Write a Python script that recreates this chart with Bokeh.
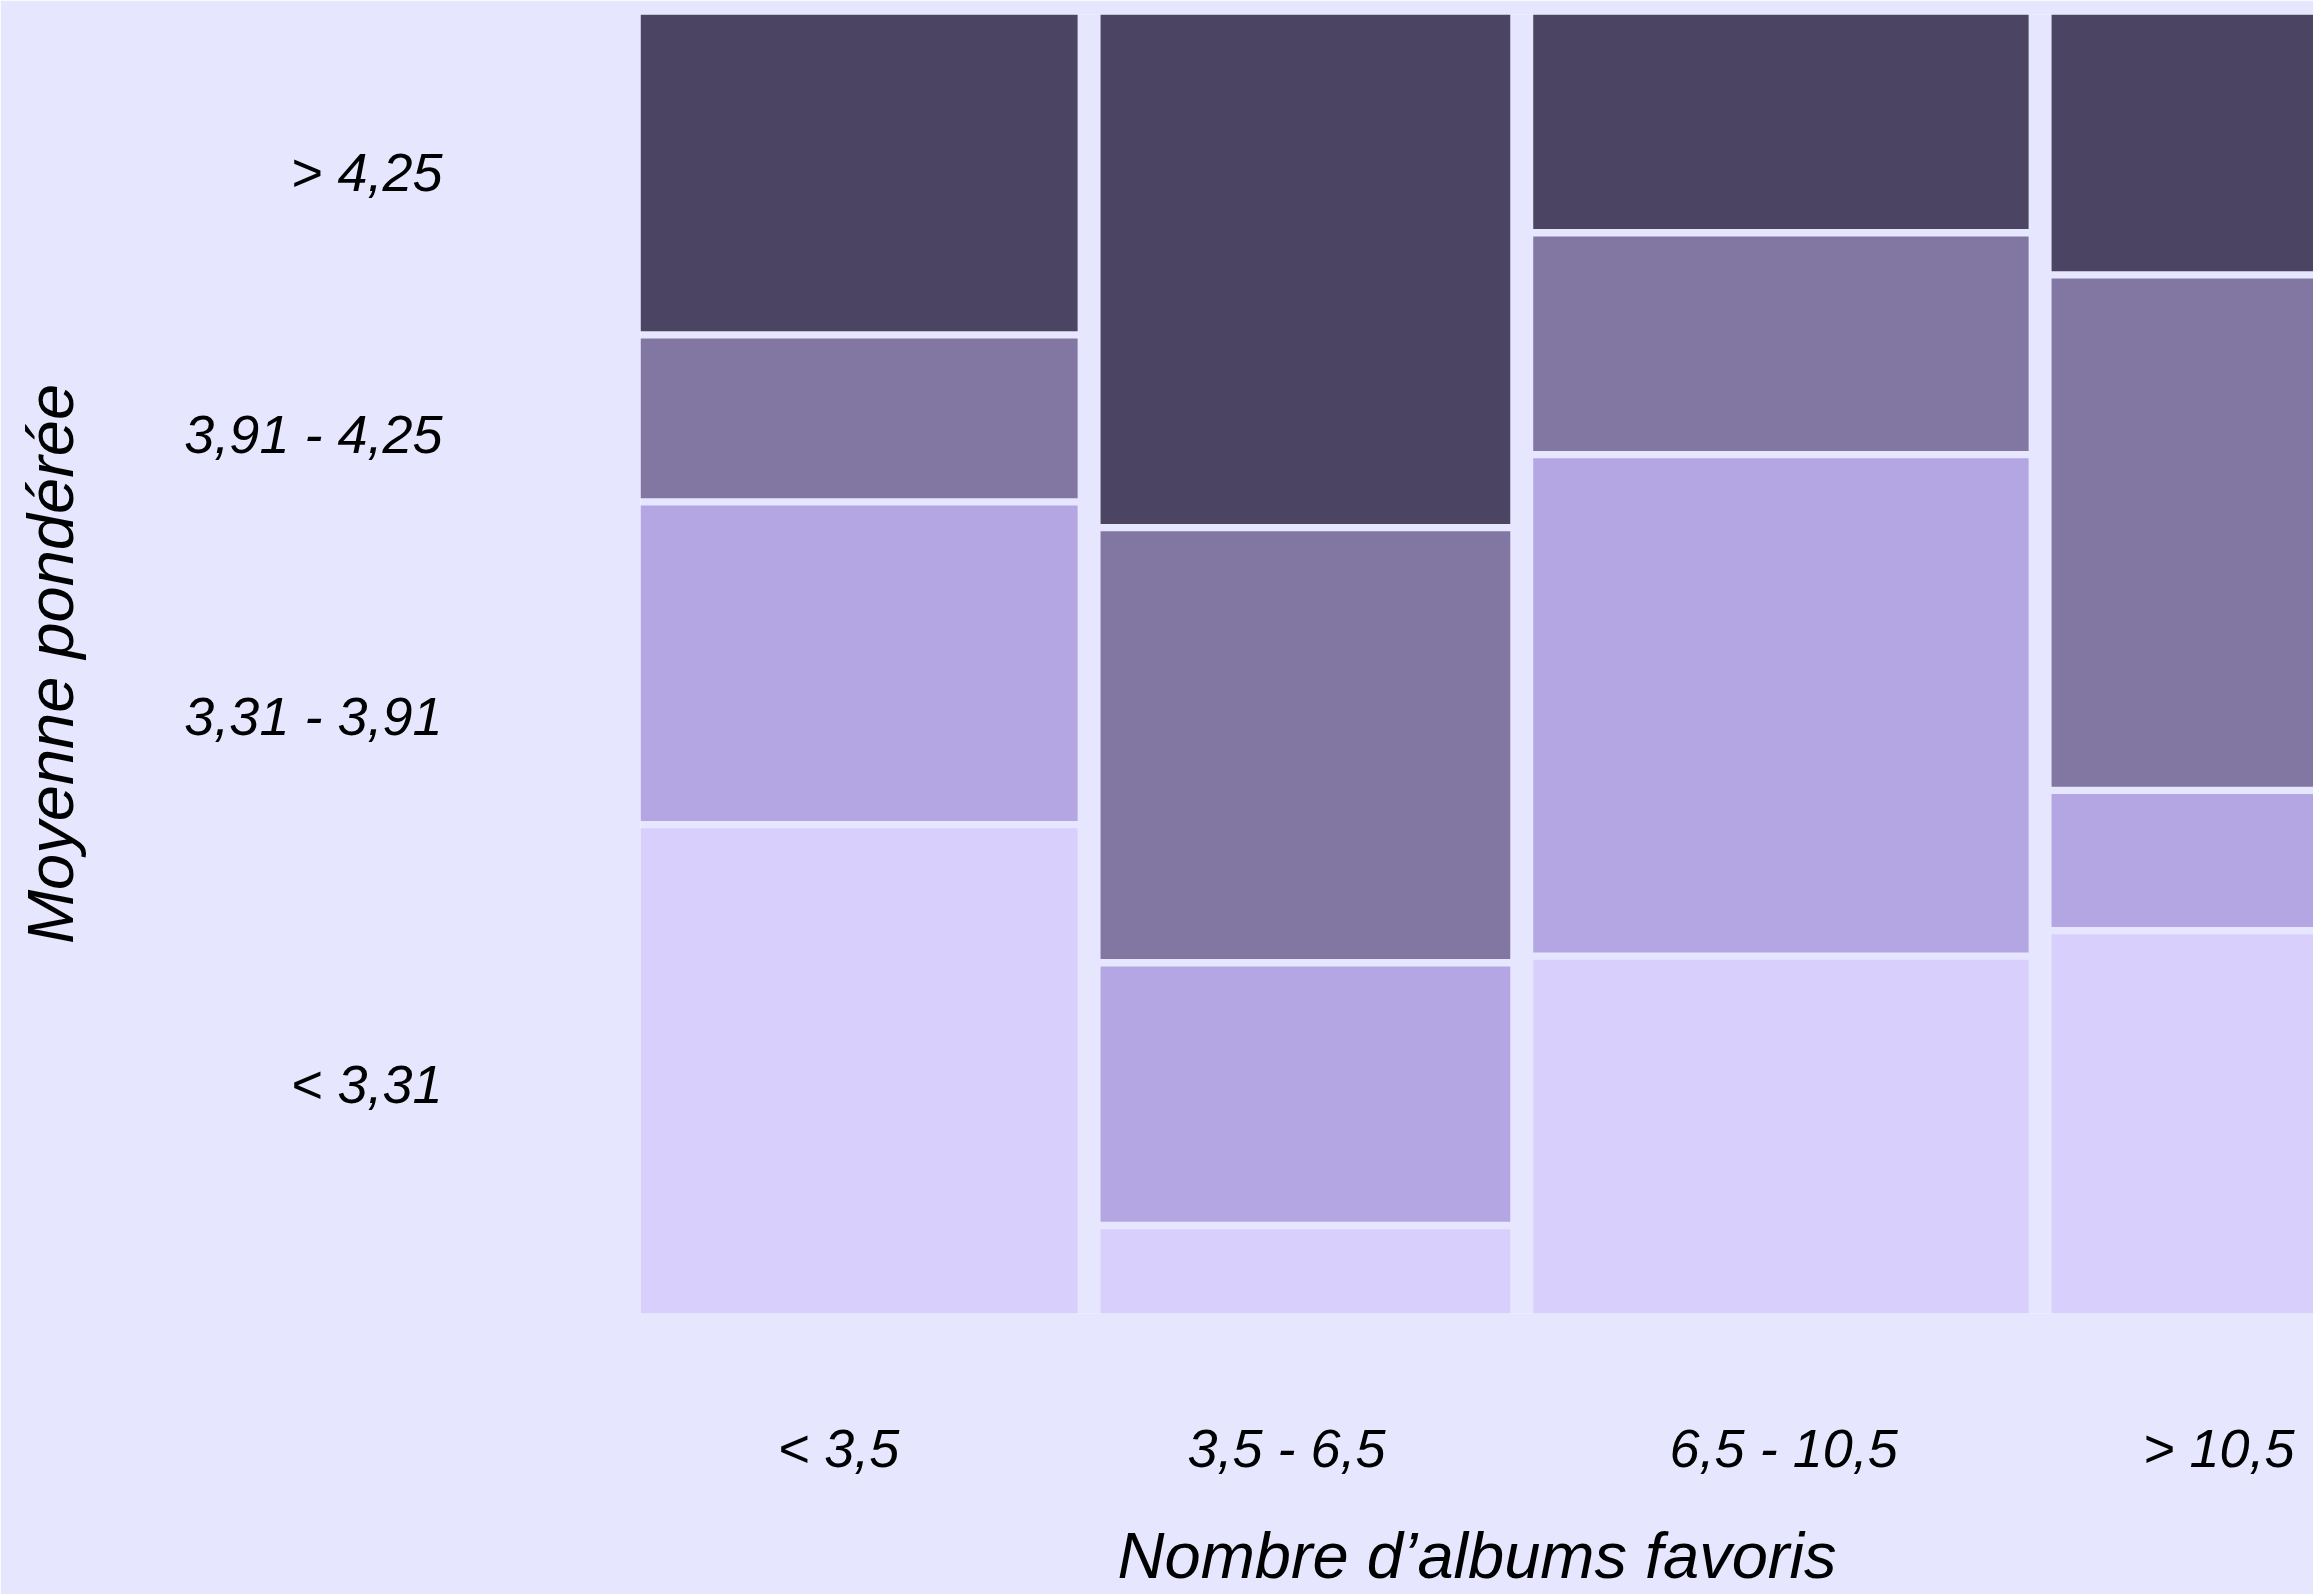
from bokeh.plotting import figure
from bokeh.models import Range1d, FixedTicker, ColumnDataSource
from bokeh.embed import file_html
from bokeh.resources import INLINE

# ---- data ----
x_categories = ["< 3,5", "3,5 - 6,5", "6,5 - 10,5", "> 10,5"]
y_categories = ["< 3,31", "3,31 - 3,91", "3,91 - 4,25", "> 4,25"]
# share of respondents in each "Nombre d'albums favoris" group (column widths, %)
col_share = [25.5, 23.9, 28.9, 21.7]
# share of each "Moyenne pondérée" group within each column (%), bottom to top
share_lt_331 = [38.0, 6.6, 27.7, 29.7]
share_331_391 = [24.7, 20.0, 38.7, 10.4]
share_391_425 = [12.5, 33.5, 16.8, 39.8]
share_gt_425 = [24.8, 39.9, 16.8, 20.1]
# axis label positions
x_tick_pos = [11.55, 37.69, 66.69, 92.07]
y_tick_pos = [0.177, 0.460, 0.677, 0.879]

colors = ["#D8CFFD", "#B4A6E3", "#8276A3", "#4B4563"]
BG = "#E6E6FE"
GX = 1.34      # horizontal gap between columns (x units)
GY = 0.0057    # vertical gap between tiles (y units)

rows = [share_lt_331, share_331_391, share_391_425, share_gt_425]

left, right, bottom, top, fill = [], [], [], [], []
x0 = 0.0
for i, w in enumerate(col_share):
    l = x0
    r = x0 + w
    y0 = 0.0
    for j, row in enumerate(rows):
        h = row[i] / 100.0 * (1 - 3 * GY)
        left.append(l)
        right.append(r)
        bottom.append(y0)
        top.append(y0 + h)
        fill.append(colors[j])
        y0 += h + GY
    x0 = r + GX

src = ColumnDataSource(dict(left=left, right=right, bottom=bottom, top=top, fill=fill))

W, H = 2313, 1594
p = figure(width=W, height=H, output_backend="svg", toolbar_location=None,
           x_range=Range1d(0, 97.6), y_range=Range1d(0, 1),
           min_border_left=640, min_border_right=0, min_border_top=14,
           min_border_bottom=277)
p.background_fill_color = BG
p.border_fill_color = BG
p.outline_line_color = None
p.xgrid.visible = False
p.ygrid.visible = False

p.quad(left="left", right="right", bottom="bottom", top="top", source=src,
       fill_color="fill", line_color=None)

FONT = "Liberation Sans, Arial, Helvetica, sans-serif"

xa = p.xaxis[0]
xa.ticker = FixedTicker(ticks=x_tick_pos)
xa.major_label_overrides = {c: lab for c, lab in zip(x_tick_pos, x_categories)}
xa.axis_label = "Nombre d\u2019albums favoris"

ya = p.yaxis[0]
ya.ticker = FixedTicker(ticks=y_tick_pos)
ya.major_label_overrides = {c: lab for c, lab in zip(y_tick_pos, y_categories)}
ya.axis_label = "Moyenne pondérée"

for ax in (xa, ya):
    ax.axis_line_color = None
    ax.major_tick_line_color = None
    ax.minor_tick_line_color = None
    ax.major_tick_out = 0
    ax.major_tick_in = 0
    ax.major_label_text_font = FONT
    ax.major_label_text_font_style = "italic"
    ax.major_label_text_font_size = "54px"
    ax.major_label_text_color = "#000000"
    ax.axis_label_text_font = FONT
    ax.axis_label_text_font_style = "italic"
    ax.axis_label_text_font_size = "65px"
    ax.axis_label_text_color = "#000000"

xa.major_label_standoff = 104
xa.axis_label_standoff = 38
ya.major_label_standoff = 198
ya.axis_label_standoff = 94

open("out.html", "w").write(file_html(p, INLINE))
